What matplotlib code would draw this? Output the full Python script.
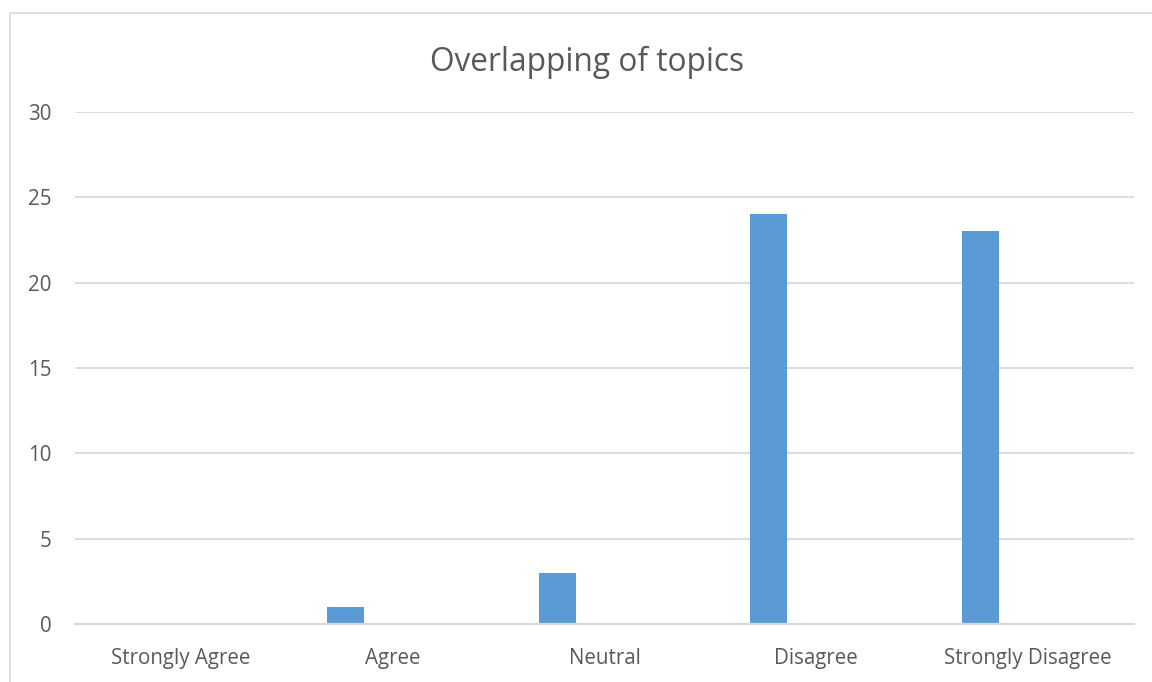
import matplotlib
matplotlib.use("Agg")
import matplotlib.pyplot as plt
from matplotlib.patches import Rectangle

categories = ["Strongly Agree", "Agree", "Neutral", "Disagree", "Strongly Disagree"]
values = [0, 1, 3, 24, 23]
yticks = [0, 5, 10, 15, 20, 25, 30]

plt.rcParams['font.family'] = ['Open Sans', 'DejaVu Sans']
text_color = "#595959"
grid_color = "#d9d9d9"
bar_color = "#5b9bd5"

fig = plt.figure(figsize=(11.52, 6.82), dpi=100)
ax = fig.add_axes([75/1152, 1-624/682, (1134-75)/1152, (624-112)/682])

x = list(range(len(categories)))
offset = 0.224
width = 0.175
ax.bar([i - offset for i in x], values, width=width, color=bar_color, zorder=3)

ax.set_xlim(-0.5, len(categories) - 0.5)
ax.set_ylim(0, 30)
ax.set_yticks(yticks)
ax.set_yticklabels([str(v) for v in yticks])
ax.set_xticks(x)
ax.set_xticklabels(categories)
ax.tick_params(axis='both', length=0, colors=text_color, labelsize=14.8)
ax.tick_params(axis='y', pad=17)
ax.tick_params(axis='x', pad=17)
ax.grid(axis='y', color=grid_color, linewidth=1.3, zorder=0)
for s in ['top', 'right', 'left']:
    ax.spines[s].set_visible(False)
ax.spines['bottom'].set_color(grid_color)
ax.spines['bottom'].set_linewidth(1.6)
ax.spines['bottom'].set_zorder(4)

fig.text(587/1152, 1-62/682, "Overlapping of topics", ha='center', va='center',
         fontsize=22.8, color=text_color)

fig.patches.append(Rectangle((10/1152, -0.1), 1.2, 1-13/682+0.1, transform=fig.transFigure,
                             fill=False, edgecolor=grid_color, linewidth=1.2))

fig.savefig("out.png", dpi=100)
